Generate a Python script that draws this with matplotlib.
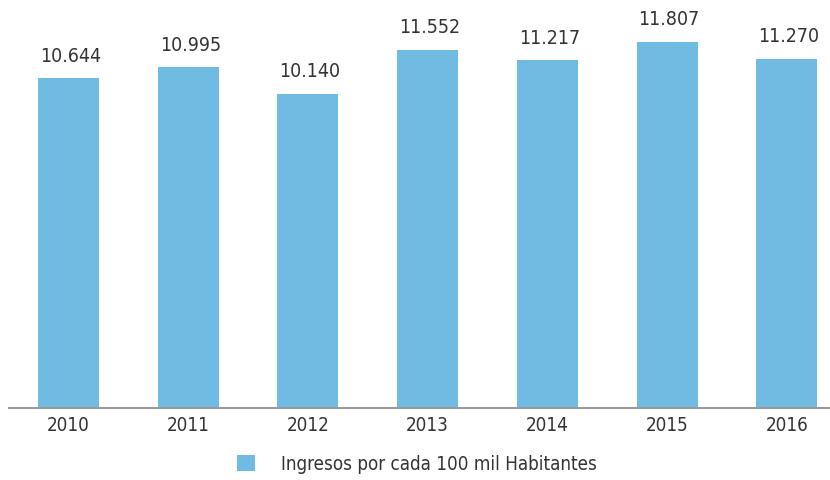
import matplotlib.pyplot as plt

plt.rcParams['font.family'] = ['DejaVu Sans']
plt.rcParams['font.stretch'] = 'condensed'

years = ['2010', '2011', '2012', '2013', '2014', '2015', '2016']
ingresos = [10644, 10995, 10140, 11552, 11217, 11807, 11270]
label_serie = 'Ingresos por cada 100 mil Habitantes'

bar_color = '#6fbbe2'
text_color = '#333333'


def fmt(v):
    # separador de miles con punto
    return '{:,}'.format(v).replace(',', '.')


fig = plt.figure(figsize=(8.3, 4.8), dpi=100)
ax = fig.add_axes([8.5 / 830, 72 / 480, 1 - 8.5 / 830, 408 / 480])

x = list(range(len(years)))
bars = ax.bar(x, ingresos, width=0.51, color=bar_color, label=label_serie)

for xi, v in zip(x, ingresos):
    ax.annotate(fmt(v), (xi, v), xytext=(1.5, 9), textcoords='offset points',
                ha='center', va='bottom', fontsize=14, color=text_color)

ax.set_xlim(-0.5, 6.36)
ax.set_ylim(0, 13160)
ax.set_xticks(x)
ax.set_xticklabels(years, fontsize=13.5, color=text_color)
ax.tick_params(axis='x', length=0, pad=6)
ax.set_yticks([])
for s in ['top', 'right', 'left']:
    ax.spines[s].set_visible(False)
ax.spines['bottom'].set_color('#999999')
ax.spines['bottom'].set_linewidth(1.5)

fig.legend(handles=[bars], loc='center', bbox_to_anchor=(417 / 830, 1 - 464 / 480),
           frameon=False, fontsize=13.5, handlelength=0.95, handleheight=0.95,
           handletextpad=1.4, labelcolor=text_color)

fig.savefig('out.png', dpi=100)
